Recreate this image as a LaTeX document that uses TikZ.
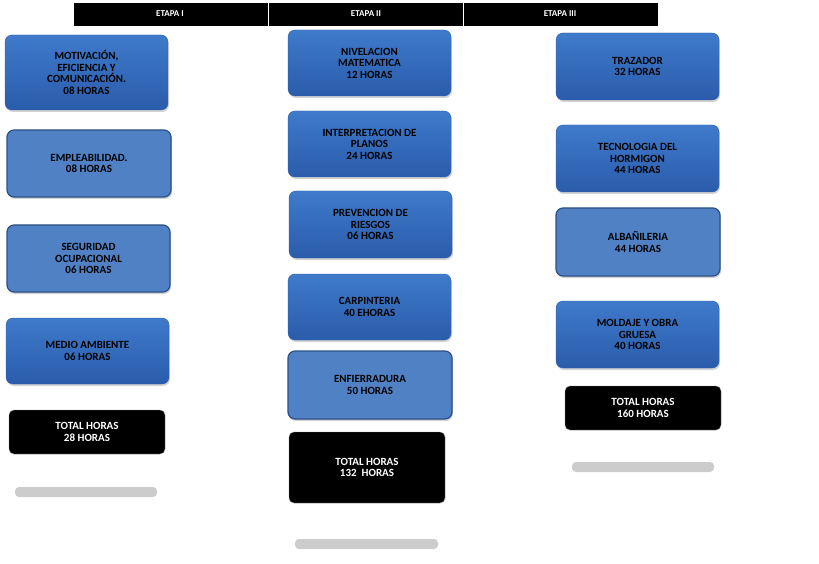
\documentclass[tikz,border=0pt]{standalone}
\usepackage{fontspec}
\setmainfont{Carlito}
\usetikzlibrary{shadows}
\definecolor{bA}{HTML}{3F7ACB}
\definecolor{bB}{HTML}{2A5CAB}
\definecolor{bL}{HTML}{4F81C4}
\definecolor{bD}{HTML}{2C4F86}
\tikzset{x=1pt,y=-1pt,
 hdr/.style={draw=white,fill=black,text=white,font=\bfseries\fontsize{9}{10}\selectfont},
 card/.style={rounded corners=7pt,top color=bA,bottom color=bB,draw=bB,
   drop shadow={shadow xshift=1pt,shadow yshift=-2pt,opacity=.35}},
 cardl/.style={rounded corners=7pt,fill=bL,draw=bD,line width=1.2pt,
   drop shadow={shadow xshift=1pt,shadow yshift=-2pt,opacity=.35}},
 tot/.style={rounded corners=5pt,fill=black,draw=gray},
 txt/.style={align=center,font=\bfseries\fontsize{11}{11.5}\selectfont,text=black},
 txtw/.style={align=center,font=\bfseries\fontsize{11}{11.5}\selectfont,text=white},
 blur/.style={fill=gray!40,rounded corners=4pt}}
\newcommand{\bx}[6]{\draw[#1] (#2,#3) rectangle (#4,#5); \node[txt] at ({(#2+#4)/2},{(#3+#5)/2}) {#6};}
\newcommand{\tb}[6]{\draw[#1] (#2,#3) rectangle (#4,#5); \node[txtw] at ({(#2+#4)/2},{(#3+#5)/2}) {#6};}
\begin{document}
\begin{tikzpicture}
\useasboundingbox (0,0) rectangle (819,564);
\draw[hdr] (73,2) rectangle (268,26); \node[hdr,draw=none] at (170,14) {ETAPA I};
\draw[hdr] (268,2) rectangle (463,26); \node[hdr,draw=none] at (366,14) {ETAPA II};
\draw[hdr] (463,2) rectangle (658,26); \node[hdr,draw=none] at (560,14) {ETAPA III};
% col1
\bx{card}{5}{35}{168}{110}{MOTIVACIÓN,\\EFICIENCIA Y\\COMUNICACIÓN.\\08 HORAS}
\bx{cardl}{7}{130}{171}{197}{EMPLEABILIDAD.\\08 HORAS}
\bx{cardl}{7}{225}{170}{292}{SEGURIDAD\\OCUPACIONAL\\06 HORAS}
\bx{card}{6}{318}{169}{384}{MEDIO AMBIENTE\\06 HORAS}
\tb{tot}{9}{410}{165}{454}{TOTAL HORAS\\28 HORAS}
% col2
\bx{card}{288}{30}{451}{96}{NIVELACION\\MATEMATICA\\12 HORAS}
\bx{card}{288}{111}{451}{177}{INTERPRETACION DE\\PLANOS\\24 HORAS}
\bx{card}{289}{191}{452}{258}{PREVENCION DE\\RIESGOS\\06 HORAS}
\bx{card}{288}{274}{451}{340}{CARPINTERIA\\40 EHORAS}
\bx{cardl}{288}{351}{452}{419}{ENFIERRADURA\\50 HORAS}
\tb{tot}{289}{432}{445}{503}{TOTAL HORAS\\132\ \ HORAS}
% col3
\bx{card}{556}{33}{719}{100}{TRAZADOR\\32 HORAS}
\bx{card}{556}{125}{719}{192}{TECNOLOGIA DEL\\HORMIGON\\44 HORAS}
\bx{cardl}{556}{208}{720}{276}{ALBAÑILERIA\\44 HORAS}
\bx{card}{556}{301}{719}{368}{MOLDAJE Y OBRA\\GRUESA\\40 HORAS}
\tb{tot}{565}{386}{721}{430}{TOTAL HORAS\\160 HORAS}
% blurred reflections
\fill[blur] (15,487) rectangle (157,497);
\fill[blur] (295,539) rectangle (438,549);
\fill[blur] (572,462) rectangle (714,472);
\end{tikzpicture}
\end{document}
